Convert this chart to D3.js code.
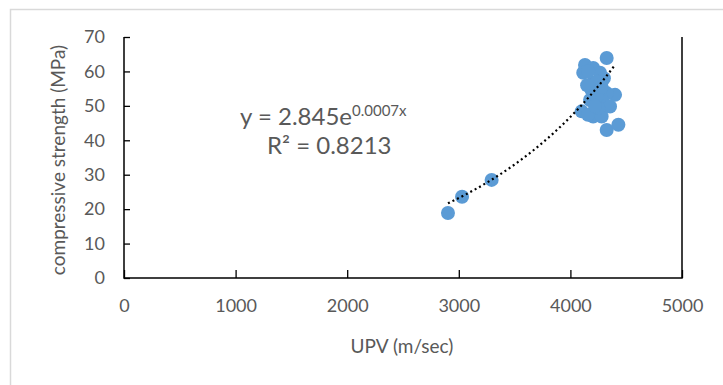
<!DOCTYPE html>
<html>
<head>
<meta charset="utf-8">
<script src="https://cdn.jsdelivr.net/npm/d3@7"></script>
<style>
  body { margin: 0; background: #fff; }
  text { font-family: Lato, 'Open Sans', sans-serif; fill: #595959; }
</style>
</head>
<body>
<div id="chart"></div>
<script>
// UPV (m/sec) readings
const upv = [2903, 3029, 3294,
  4325, 4131, 4115, 4204, 4265, 4204, 4190, 4400, 4325, 4292, 4355,
  4101, 4204, 4280, 4158, 4325, 4430, 4265, 4235, 4250, 4176, 4160,
  4300, 4240, 4220, 4150, 4280]
// compressive strength (MPa)
const strength = [18.9, 23.6, 28.5,
  63.9, 61.9, 59.6, 61.0, 59.6, 56.7, 54.6, 53.2, 53.7, 51.3, 49.8,
  48.4, 46.9, 46.9, 47.4, 43.0, 44.5, 54.6, 52.7, 49.4, 51.7, 60.0,
  58.0, 57.0, 50.0, 56.0, 55.5]
const xTicks = [0, 1000, 2000, 3000, 4000, 5000]
const yTicks = [0, 10, 20, 30, 40, 50, 60, 70]
// exponential trendline y = a * e^(b x)
const fitA = 2.845
const fitB = 0.0007

const width = 723
const height = 385
const margin = { top: 37, left: 124, right: 41, bottom: 107 }

const svg = d3
  .select('#chart')
  .append('svg')
  .attr('width', width)
  .attr('height', height)

// chart area border (cut off at right/bottom)
svg
  .append('rect')
  .attr('x', 10.5)
  .attr('y', 9.5)
  .attr('width', width)
  .attr('height', height)
  .attr('fill', 'none')
  .attr('stroke', '#d9d9d9')
  .attr('stroke-width', 1.5)

const xScale = d3.scaleLinear().domain([0, 5000]).range([margin.left, width - margin.right])
const yScale = d3.scaleLinear().domain([0, 70]).range([height - margin.bottom, margin.top])

const points = upv.map((v, i) => ({ x: v, y: strength[i] }))

svg
  .selectAll('circle')
  .data(points)
  .enter()
  .append('circle')
  .attr('cx', d => xScale(d.x))
  .attr('cy', d => yScale(d.y))
  .attr('r', 7)
  .attr('fill', '#5b9bd5')

// trendline over the data range
const xMin = d3.min(upv)
const xMax = 4400
const fit = d3.range(0, 41).map(i => {
  const x = xMin + (xMax - xMin) * i / 40
  return { x: x, y: fitA * Math.exp(fitB * x) }
})
const line = d3.line().x(d => xScale(d.x)).y(d => yScale(d.y))
svg
  .append('path')
  .datum(fit)
  .attr('d', line)
  .attr('fill', 'none')
  .attr('stroke', '#000')
  .attr('stroke-width', 2.2)
  .attr('stroke-dasharray', '2,3')

// axes
const yAxis = d3.axisLeft(yScale).tickValues(yTicks).tickSize(-6).tickPadding(19)
svg
  .append('g')
  .attr('class', 'axis y-axis')
  .attr('transform', 'translate(' + margin.left + ',0)')
  .call(yAxis)

const xAxis = d3.axisBottom(xScale).tickValues(xTicks).tickFormat(d3.format('d'))
  .tickSize(-8).tickPadding(21)
svg
  .append('g')
  .attr('class', 'axis x-axis')
  .attr('transform', 'translate(0,' + (height - margin.bottom) + ')')
  .call(xAxis)

svg.selectAll('.axis path').remove()
svg.selectAll('.axis line').attr('stroke', '#000').attr('stroke-width', 1.3)
svg.selectAll('.axis text').attr('font-size', 18).attr('fill', '#595959')
  .attr('font-family', 'Lato, sans-serif')

// plot frame: left, bottom, right
const x0 = xScale(0)
const x1 = xScale(5000)
const y0 = yScale(0)
const y1 = yScale(70)
svg
  .append('path')
  .attr('d', `M${x0},${y1}V${y0}H${x1}V${y1}`)
  .attr('fill', 'none')
  .attr('stroke', '#000')
  .attr('stroke-width', 1.5)

// axis titles
svg
  .append('text')
  .text('UPV (m/sec)')
  .attr('x', 402)
  .attr('y', 353)
  .attr('text-anchor', 'middle')
  .attr('font-size', 19)

svg
  .append('text')
  .text('compressive strength (MPa)')
  .attr('transform', 'translate(65,160) rotate(-90)')
  .attr('text-anchor', 'middle')
  .attr('font-size', 19)

// equation label
const eq = svg
  .append('text')
  .attr('x', 240)
  .attr('y', 125)
  .attr('font-size', 24)
eq.append('tspan').text('y = 2.845e')
eq.append('tspan').text('0.0007x').attr('font-size', 15).attr('dy', -9)

svg
  .append('text')
  .text('R² = 0.8213')
  .attr('x', 267)
  .attr('y', 154)
  .attr('font-size', 24)
</script>
</body>
</html>
